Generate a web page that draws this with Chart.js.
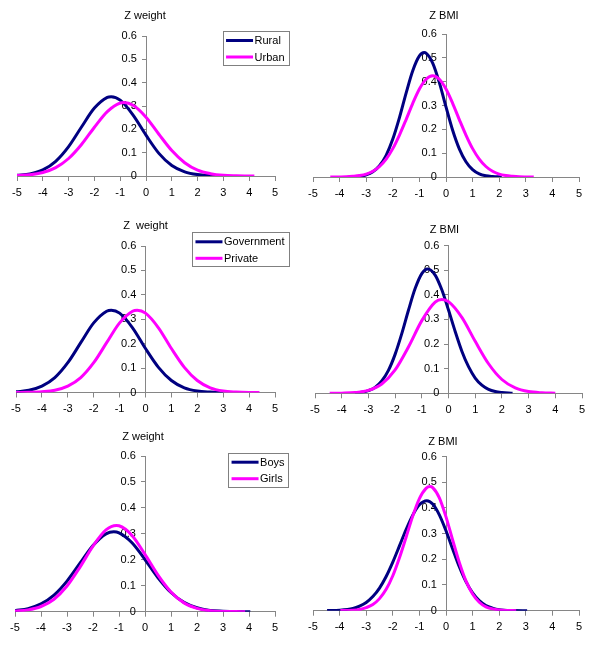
<!DOCTYPE html>
<html>
<head>
<meta charset="utf-8">
<script src="https://cdn.jsdelivr.net/npm/chart.js@4/dist/chart.umd.min.js"></script>
<style>
html,body{margin:0;padding:0;background:#ffffff;width:600px;height:648px;overflow:hidden}
canvas{position:absolute;display:block}
</style>
</head>
<body>
<canvas id="c1" width="300" height="216" style="left:0;top:0"></canvas>
<canvas id="c2" width="300" height="216" style="left:300px;top:0"></canvas>
<canvas id="c3" width="300" height="216" style="left:0;top:216px"></canvas>
<canvas id="c4" width="300" height="216" style="left:300px;top:216px"></canvas>
<canvas id="c5" width="300" height="216" style="left:0;top:432px"></canvas>
<canvas id="c6" width="300" height="216" style="left:300px;top:432px"></canvas>
<script>
// ---------- DATA ----------
const xTickValues = [-5,-4,-3,-2,-1,0,1,2,3,4,5];
const yTickValues = [0,0.1,0.2,0.3,0.4,0.5,0.6];
const panelTitles = ["Z weight","Z BMI","Z  weight","Z BMI","Z weight","Z BMI"];
const groupLabels = [["Rural","Urban"],["Government","Private"],["Boys","Girls"]];

// Row 1: Rural / Urban
const weightRuralX = [-5,-4.5,-4,-3.5,-3,-2.5,-2,-1.5,-1.35,-1,-0.5,0,0.5,1,1.5,2,2.5,3];
const weightRuralY = [0.003,0.009,0.026,0.063,0.126,0.210,0.291,0.337,0.340,0.325,0.261,0.175,0.097,0.045,0.018,0.006,0.002,0.0005];
const weightUrbanX = [-5,-4.5,-4,-3.5,-3,-2.5,-2,-1.5,-1,-0.85,-0.5,0,0.5,1,1.5,2,2.5,3,3.5,4,4.2];
const weightUrbanY = [0.002,0.005,0.015,0.036,0.075,0.135,0.209,0.276,0.313,0.315,0.303,0.252,0.179,0.109,0.057,0.025,0.010,0.003,0.001,0.0002,0.0001];
const bmiRuralX = [-3.5,-3.25,-3,-2.75,-2.5,-2.25,-2,-1.75,-1.5,-1.25,-1,-0.82,-0.75,-0.5,-0.25,0,0.25,0.5,0.75,1,1.25,1.5,1.75,2,2.1];
const bmiRuralY = [0.001,0.003,0.009,0.022,0.047,0.091,0.159,0.249,0.352,0.446,0.508,0.522,0.520,0.478,0.396,0.294,0.196,0.118,0.064,0.031,0.013,0.005,0.002,0.0006,0.0003];
const bmiUrbanX = [-4.35,-4,-3.75,-3.5,-3.25,-3,-2.75,-2.5,-2.25,-2,-1.75,-1.5,-1.25,-1,-0.75,-0.5,-0.25,0,0.25,0.5,0.75,1,1.25,1.5,1.75,2,2.25,2.5,2.75,3,3.3];
const bmiUrbanY = [0.0001,0.0004,0.001,0.003,0.006,0.012,0.024,0.044,0.075,0.119,0.176,0.241,0.309,0.369,0.410,0.425,0.410,0.369,0.309,0.241,0.176,0.119,0.075,0.044,0.024,0.012,0.006,0.003,0.001,0.0004,0.0001];

// Row 2: Government / Private
const weightGovX = [-5,-4.5,-4,-3.5,-3,-2.5,-2,-1.5,-1.32,-1,-0.5,0,0.5,1,1.5,2,2.5,3];
const weightGovY = [0.003,0.009,0.026,0.061,0.122,0.204,0.285,0.333,0.337,0.325,0.265,0.180,0.103,0.049,0.019,0.006,0.002,0.0004];
const weightPrivX = [-5,-4.5,-4,-3.5,-3,-2.5,-2,-1.5,-1,-0.5,-0.32,0,0.5,1,1.5,2,2.5,3,3.5,4,4.4];
const weightPrivY = [0.0001,0.0006,0.003,0.009,0.026,0.061,0.122,0.204,0.285,0.333,0.337,0.325,0.265,0.180,0.103,0.049,0.019,0.006,0.002,0.0004,0.0001];
const bmiGovX = [-3.5,-3.25,-3,-2.75,-2.5,-2.25,-2,-1.75,-1.5,-1.25,-1,-0.78,-0.5,-0.25,0,0.25,0.5,0.75,1,1.25,1.5,1.75,2,2.25,2.4];
const bmiGovY = [0.002,0.004,0.011,0.024,0.050,0.093,0.158,0.242,0.337,0.425,0.486,0.505,0.480,0.420,0.338,0.251,0.171,0.108,0.062,0.033,0.016,0.007,0.003,0.001,0.0006];
const bmiPrivX = [-4.45,-4,-3.5,-3,-2.5,-2,-1.5,-1,-0.5,-0.25,0,0.5,1,1.5,2,2.5,3,3.5,4];
const bmiPrivY = [0.0001,0.0006,0.003,0.012,0.038,0.095,0.188,0.295,0.370,0.381,0.372,0.308,0.211,0.120,0.056,0.022,0.007,0.002,0.0004];

// Row 3: Boys / Girls
const weightBoysX = [-5,-4.5,-4,-3.5,-3,-2.5,-2,-1.5,-1.2,-1,-0.5,0,0.5,1,1.5,2,2.5,3,3.5,4.05];
const weightBoysY = [0.004,0.012,0.030,0.064,0.118,0.187,0.255,0.300,0.308,0.304,0.266,0.201,0.131,0.074,0.036,0.015,0.005,0.002,0.0004,0.0001];
const weightGirlsX = [-5,-4.5,-4,-3.5,-3,-2.5,-2,-1.5,-1.1,-1,-0.5,0,0.5,1,1.5,2,2.5,3,3.5,3.85];
const weightGirlsY = [0.002,0.007,0.020,0.048,0.099,0.172,0.253,0.315,0.332,0.331,0.294,0.221,0.141,0.076,0.034,0.013,0.004,0.001,0.0003,0.0001];
const bmiBoysX = [-4.47,-4,-3.5,-3.25,-3,-2.75,-2.5,-2.25,-2,-1.75,-1.5,-1.25,-1,-0.72,-0.5,-0.25,0,0.25,0.5,0.75,1,1.25,1.5,1.75,2,2.5,3.05];
const bmiBoysY = [0.0004,0.002,0.009,0.018,0.032,0.055,0.088,0.133,0.189,0.252,0.316,0.372,0.412,0.428,0.415,0.373,0.311,0.240,0.171,0.113,0.069,0.039,0.020,0.010,0.004,0.0007,0.0001];
const bmiGirlsX = [-3.97,-3.5,-3.25,-3,-2.75,-2.5,-2.25,-2,-1.75,-1.5,-1.25,-1,-0.75,-0.6,-0.5,-0.25,0,0.25,0.5,0.75,1,1.25,1.5,1.75,2,2.25,2.64];
const bmiGirlsY = [0.0003,0.002,0.005,0.012,0.024,0.047,0.083,0.136,0.206,0.286,0.368,0.436,0.476,0.483,0.479,0.439,0.365,0.275,0.188,0.116,0.065,0.033,0.015,0.007,0.003,0.001,0.0002];

// ---------- STYLE / LAYOUT ----------
const FONT = '"Liberation Sans", Arial, Helvetica, sans-serif';
const NAVY = '#000080';
const MAGENTA = '#FF00FF';
const AXIS = '#868686';

const panels = [
  {id:'c1', title:0, group:0, series:[[weightRuralX,weightRuralY],[weightUrbanX,weightUrbanY]], pad:{left:17,right:25,top:36}, axisH:40, tdx:-1, tdy:20, legendTop:31},
  {id:'c2', title:1, group:0, series:[[bmiRuralX,bmiRuralY],[bmiUrbanX,bmiUrbanY]], pad:{left:13,right:21,top:34}, axisH:39, tdx:-2, tdy:18.5, legendTop:null},
  {id:'c3', title:2, group:1, series:[[weightGovX,weightGovY],[weightPrivX,weightPrivY]], pad:{left:16,right:25,top:30}, axisH:39.5, tdx:0, tdy:20, legendTop:16.3},
  {id:'c4', title:3, group:1, series:[[bmiGovX,bmiGovY],[bmiPrivX,bmiPrivY]], pad:{left:15,right:18,top:29.5}, axisH:38.7, tdx:-4, tdy:15.5, legendTop:null},
  {id:'c5', title:4, group:2, series:[[weightBoysX,weightBoysY],[weightGirlsX,weightGirlsY]], pad:{left:15,right:25,top:24}, axisH:36.3, tdx:-2, tdy:18.7, legendTop:20.7},
  {id:'c6', title:5, group:2, series:[[bmiBoysX,bmiBoysY],[bmiGirlsX,bmiGirlsY]], pad:{left:13,right:21,top:24.5}, axisH:37.3, tdx:-3, tdy:14.8, legendTop:null}
];

const titleLegendPlugin = {
  id: 'titleLegend',
  afterDraw(chart, args, opts) {
    const ctx = chart.ctx;
    const xs = chart.scales.x;
    const area = chart.chartArea;
    ctx.save();
    ctx.font = '11px ' + FONT;
    ctx.fillStyle = '#000';
    ctx.textAlign = 'center';
    ctx.textBaseline = 'middle';
    ctx.fillText(opts.title, xs.getPixelForValue(0) + opts.tdx, area.top - opts.tdy);
    if (opts.legendTop !== null) {
      const ds = chart.data.datasets;
      let tw = 0;
      ds.forEach(d => { tw = Math.max(tw, ctx.measureText(d.label).width); });
      const right = 288.5;
      const w = 3.5 + 27 + 1.5 + tw + 4;
      const left = right - w;
      const top = opts.legendTop;
      const h = 34;
      ctx.strokeStyle = '#808080';
      ctx.lineWidth = 1;
      ctx.strokeRect(Math.round(left) + 0.5, Math.round(top) + 0.5, Math.round(w), h);
      const rows = [top + 9.5, top + 26];
      ds.forEach((d, i) => {
        ctx.strokeStyle = d.borderColor;
        ctx.lineWidth = 3;
        ctx.beginPath();
        ctx.moveTo(left + 3.5, rows[i]);
        ctx.lineTo(left + 30.5, rows[i]);
        ctx.stroke();
        ctx.fillStyle = '#000';
        ctx.textAlign = 'left';
        ctx.fillText(d.label, left + 32, rows[i] + 0.5);
      });
    }
    ctx.restore();
  }
};

Chart.defaults.font.family = FONT;
Chart.defaults.font.size = 11;
Chart.defaults.color = '#000';

panels.forEach(p => {
  const colors = [NAVY, MAGENTA];
  const datasets = p.series.map((s, i) => ({
    label: groupLabels[p.group][i],
    data: s[0].map((x, k) => ({x: x, y: s[1][k]})),
    borderColor: colors[i],
    backgroundColor: colors[i],
    borderWidth: 3,
    pointRadius: 0,
    fill: false,
    cubicInterpolationMode: 'monotone',
    order: i === 0 ? 2 : 1
  }));
  new Chart(document.getElementById(p.id), {
    type: 'line',
    data: {datasets: datasets},
    plugins: [titleLegendPlugin],
    options: {
      responsive: false,
      animation: false,
      devicePixelRatio: 1,
      layout: {padding: {left: p.pad.left, right: p.pad.right, top: p.pad.top, bottom: 0}},
      plugins: {
        legend: {display: false},
        tooltip: {enabled: false},
        titleLegend: {title: panelTitles[p.title], tdx: p.tdx, tdy: p.tdy, legendTop: p.legendTop}
      },
      scales: {
        x: {
          type: 'linear',
          min: -5, max: 5,
          afterBuildTicks: s => { s.ticks = xTickValues.map(v => ({value: v})); },
          afterFit: s => { s.height = p.axisH; },
          ticks: {color: '#000', padding: 5, maxRotation: 0, autoSkip: false, font: {size: 11}},
          grid: {drawOnChartArea: false, drawTicks: true, tickLength: 5, color: AXIS},
          border: {display: true, color: AXIS, width: 1}
        },
        y: {
          type: 'linear',
          position: {x: 0},
          min: 0, max: 0.6,
          afterBuildTicks: s => { s.ticks = yTickValues.map(v => ({value: v})); },
          ticks: {
            color: '#000', autoSkip: false, font: {size: 11},
            callback: v => (v === 0 ? '0' : v.toFixed(1)) + '   '
          },
          grid: {drawOnChartArea: false, drawTicks: true, tickLength: 4, color: AXIS},
          border: {display: true, color: AXIS, width: 1}
        }
      }
    }
  });
});
</script>
</body>
</html>
